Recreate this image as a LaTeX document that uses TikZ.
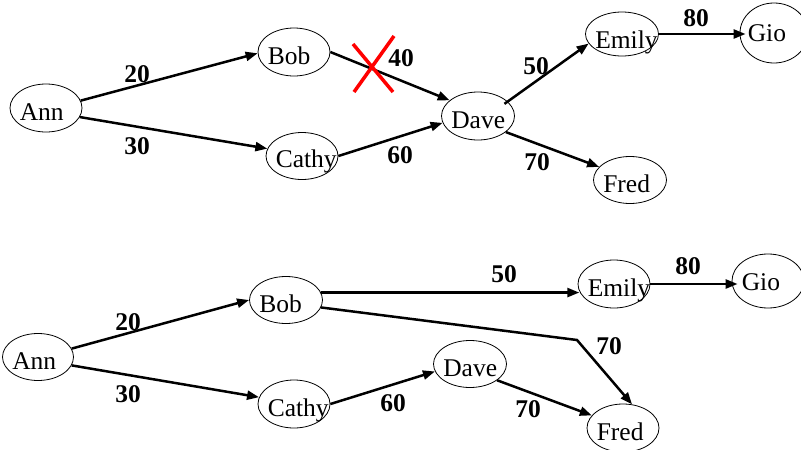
\documentclass[tikz,border=0pt]{standalone}
\usepackage{fontspec}
\setmainfont{Liberation Serif}
\usetikzlibrary{shapes.geometric,arrows.meta}
\begin{document}
\begin{tikzpicture}[x=1pt,y=-1pt,
  person/.style 2 args={ellipse, draw, line width=0.8pt, inner sep=0pt,
    label={[anchor=base west, inner sep=0pt, xshift=10pt, yshift=#2,
            font=\fontsize{25.5}{30}\selectfont]west:#1}},
  person/.default={}{-12pt},
  wt/.style={inner sep=0pt, font=\fontsize{25.5}{30}\selectfont\bfseries},
  edge/.style={line width=2.5pt, -{Triangle[length=12pt,width=9pt]}},
  cross/.style={draw=red, line width=3.5pt}]
\useasboundingbox (0,0) rectangle (801,450);

% ---------- top graph ----------
\node[person={Ann}{-12pt},   minimum width=72pt, minimum height=48pt] (a1) at (46,108) {};
\node[person={Bob}{-12pt},   minimum width=72pt, minimum height=48pt] (b1) at (294,52) {};
\node[person={Cathy}{-11pt}, minimum width=72pt, minimum height=47pt] (c1) at (302,156) {};
\node[person={Dave}{-12pt},  minimum width=73pt, minimum height=48pt] (d1) at (478,116) {};
\node[person={Emily}{-14pt}, minimum width=73pt, minimum height=44pt] (e1) at (622,34) {};
\node[person={Fred}{-12pt},  minimum width=73pt, minimum height=47pt] (f1) at (630,180) {};
\node[ellipse, draw, line width=0.8pt, inner sep=0pt, minimum width=68pt, minimum height=60pt,
  label={[anchor=base west, inner sep=0pt, xshift=8pt, yshift=-8pt,
          font=\fontsize{25.5}{30}\selectfont]west:Gio}] (g1) at (774,33) {};

\draw[edge] (a1.12) -- (b1.182);
\draw[edge] (a1.-15) -- (c1.168);
\draw[edge] (b1.0) -- (d1.151);
\draw[edge] (c1.0) -- (d1.191);
\draw[edge, shorten <=-4pt] (d1.26) -- (e1.196);
\draw[edge] (d1.-30) -- (f1.157);
\draw[edge, shorten >=-6pt] (e1.east) -- (e1.east -| g1.west);

\node[wt] (l20a) at (137,74) {20};
\node[wt] (l30a) at (137,146) {30};
\node[wt] (l40a) at (401,58) {40};
\node[wt] (l60a) at (400,155) {60};
\node[wt] (l50a) at (536,66) {50};
\node[wt] (l70a) at (537,162) {70};
\node[wt] (l80a) at (696,18) {80};

\draw[cross] (353,44) -- (393,92);
\draw[cross] (394,36) -- (354,92);

% ---------- bottom graph ----------
\node[person={Ann}{-12pt},   minimum width=71pt, minimum height=47pt] (a2) at (38,357) {};
\node[person={Bob}{-12pt},   minimum width=73pt, minimum height=47pt] (b2) at (286,300) {};
\node[person={Cathy}{-12pt}, minimum width=72pt, minimum height=48pt] (c2) at (294,404) {};
\node[person={Dave}{-12pt},  minimum width=73pt, minimum height=47pt] (d2) at (470,364) {};
\node[person={Emily}{-12pt}, minimum width=72pt, minimum height=48pt] (e2) at (614,284) {};
\node[person={Fred}{-12pt},  minimum width=72pt, minimum height=48pt] (f2) at (623,428) {};
\node[person={Gio}{-9pt},    minimum width=72pt, minimum height=54pt] (g2) at (768,281) {};
\coordinate (bend) at (577,340);

\draw[edge] (a2.14) -- (b2.180);
\draw[edge] (a2.-14) -- (c2.169);
\draw[edge] (b2.12) -- (b2.12 -| e2.192);
\draw[edge] (b2.-12) -- (bend) -- (f2.69);
\draw[edge] (c2.0) -- (d2.192);
\draw[edge] (d2.-31) -- (f2.158);
\draw[edge, shorten >=-6pt] (e2.east) -- (e2.east -| g2.west);

\node[wt] (l20b) at (128,322) {20};
\node[wt] (l30b) at (128,394) {30};
\node[wt] (l60b) at (393,403) {60};
\node[wt] (l50b) at (504,274) {50};
\node[wt] (l70b) at (609,346) {70};
\node[wt] (l70c) at (528,409) {70};
\node[wt] (l80b) at (688,266) {80};
\end{tikzpicture}
\end{document}
